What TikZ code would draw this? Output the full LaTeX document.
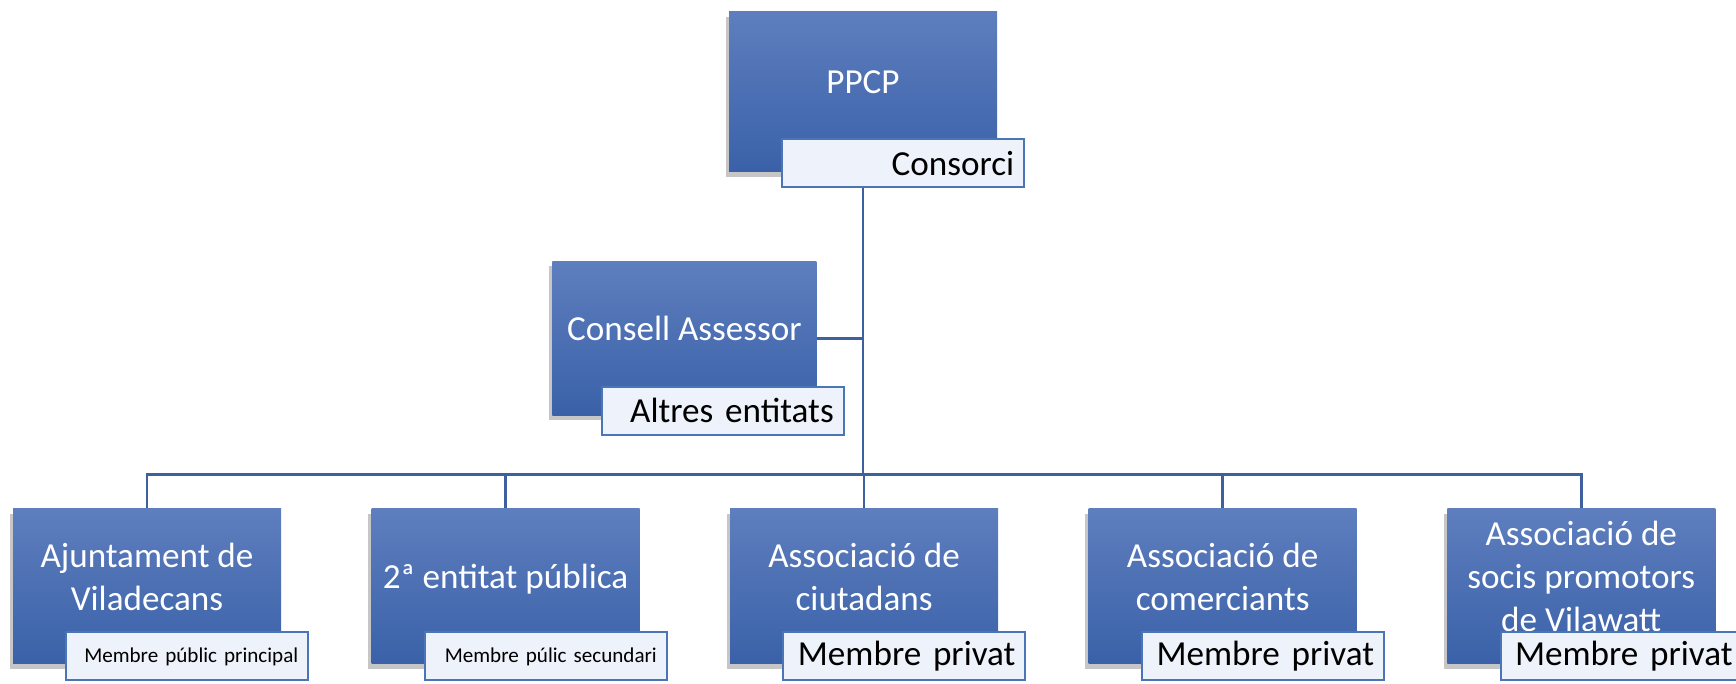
\documentclass[tikz,border=0pt]{standalone}
\usepackage{fontspec}
\setmainfont{Carlito}
\usetikzlibrary{positioning,calc,shadows,backgrounds}
\definecolor{bxtop}{RGB}{94,126,190}
\definecolor{bxbot}{RGB}{58,97,168}
\definecolor{lbfill}{RGB}{238,242,250}
\definecolor{lbline}{RGB}{74,118,184}
\definecolor{lnc}{RGB}{62,96,158}
\tikzset{
  bx/.style={rectangle, minimum width=6.7cm, minimum height=3.875cm, align=center, text=white, top color=bxtop, bottom color=bxbot, font=\fontsize{25}{30.5}\selectfont, text depth=0.5cm, drop shadow={shadow xshift=-0.08cm, shadow yshift=-0.12cm, opacity=0.45}},
  lb/.style={rectangle, minimum height=1.2cm, text width=5.55cm, inner xsep=0.25cm, align=right, draw=lbline, line width=1.4pt, fill=lbfill, font=\fontsize{25}{30}\selectfont, anchor=south east},
  lbs/.style={lb, font=\fontsize{15}{18}\selectfont},
  cn/.style={draw=lnc, line width=1.8pt},
  node distance=2.25cm
}
\begin{document}
\begin{tikzpicture}
	\useasboundingbox (0,0) rectangle (43.4,-17.1);
	\node[bx, minimum height=4cm] (pp) at (21.575,-2.3) {PPCP};
	\node[bx, minimum width=6.6cm, minimum height=3.85cm] (cs) at (17.11,-8.46) {Consell Assessor};
	\node[bx] (b1) at (3.675,-14.66) {Ajuntament de\\Viladecans};
	\node[bx, right=of b1] (b2) {2ª entitat pública};
	\node[bx, right=of b2] (b3) {Associació de\\ciutadans};
	\node[bx, right=of b3] (b4) {Associació de\\comerciants};
	\node[bx, right=of b4] (b5) {Associació de\\socis promotors\\de Vilawatt};
	%
	\node[lb] (lpp) at ($(pp.south east)+(0.7,-0.4)$) {Consorci};
	\node[lb] (lcs) at ($(cs.south east)+(0.7,-0.5)$) {Altres entitats};
	\node[lbs] (l1) at ($(b1.south east)+(0.7,-0.43)$) {Membre públic principal};
	\node[lbs] (l2) at ($(b2.south east)+(0.7,-0.43)$) {Membre púlic secundari};
	\node[lb] (l3) at ($(b3.south east)+(0.7,-0.43)$) {Membre privat};
	\node[lb] (l4) at ($(b4.south east)+(0.7,-0.43)$) {Membre privat};
	\node[lb] (l5) at ($(b5.south east)+(0.7,-0.43)$) {Membre privat};
	%
	\begin{scope}[on background layer]
	\coordinate (bus) at ($(pp.south)+(0,-7.55)$);
	\draw[cn] (pp.south) -- (bus);
	\draw[cn] (cs.east) -- (cs.east -| pp.south);
	\draw[cn] (b1.north) |- (bus) -| (b5.north);
	\foreach \b in {b2,b3,b4}
		\draw[cn] (\b.north) -- (\b.north |- bus);
	\end{scope}
\end{tikzpicture}
\end{document}
